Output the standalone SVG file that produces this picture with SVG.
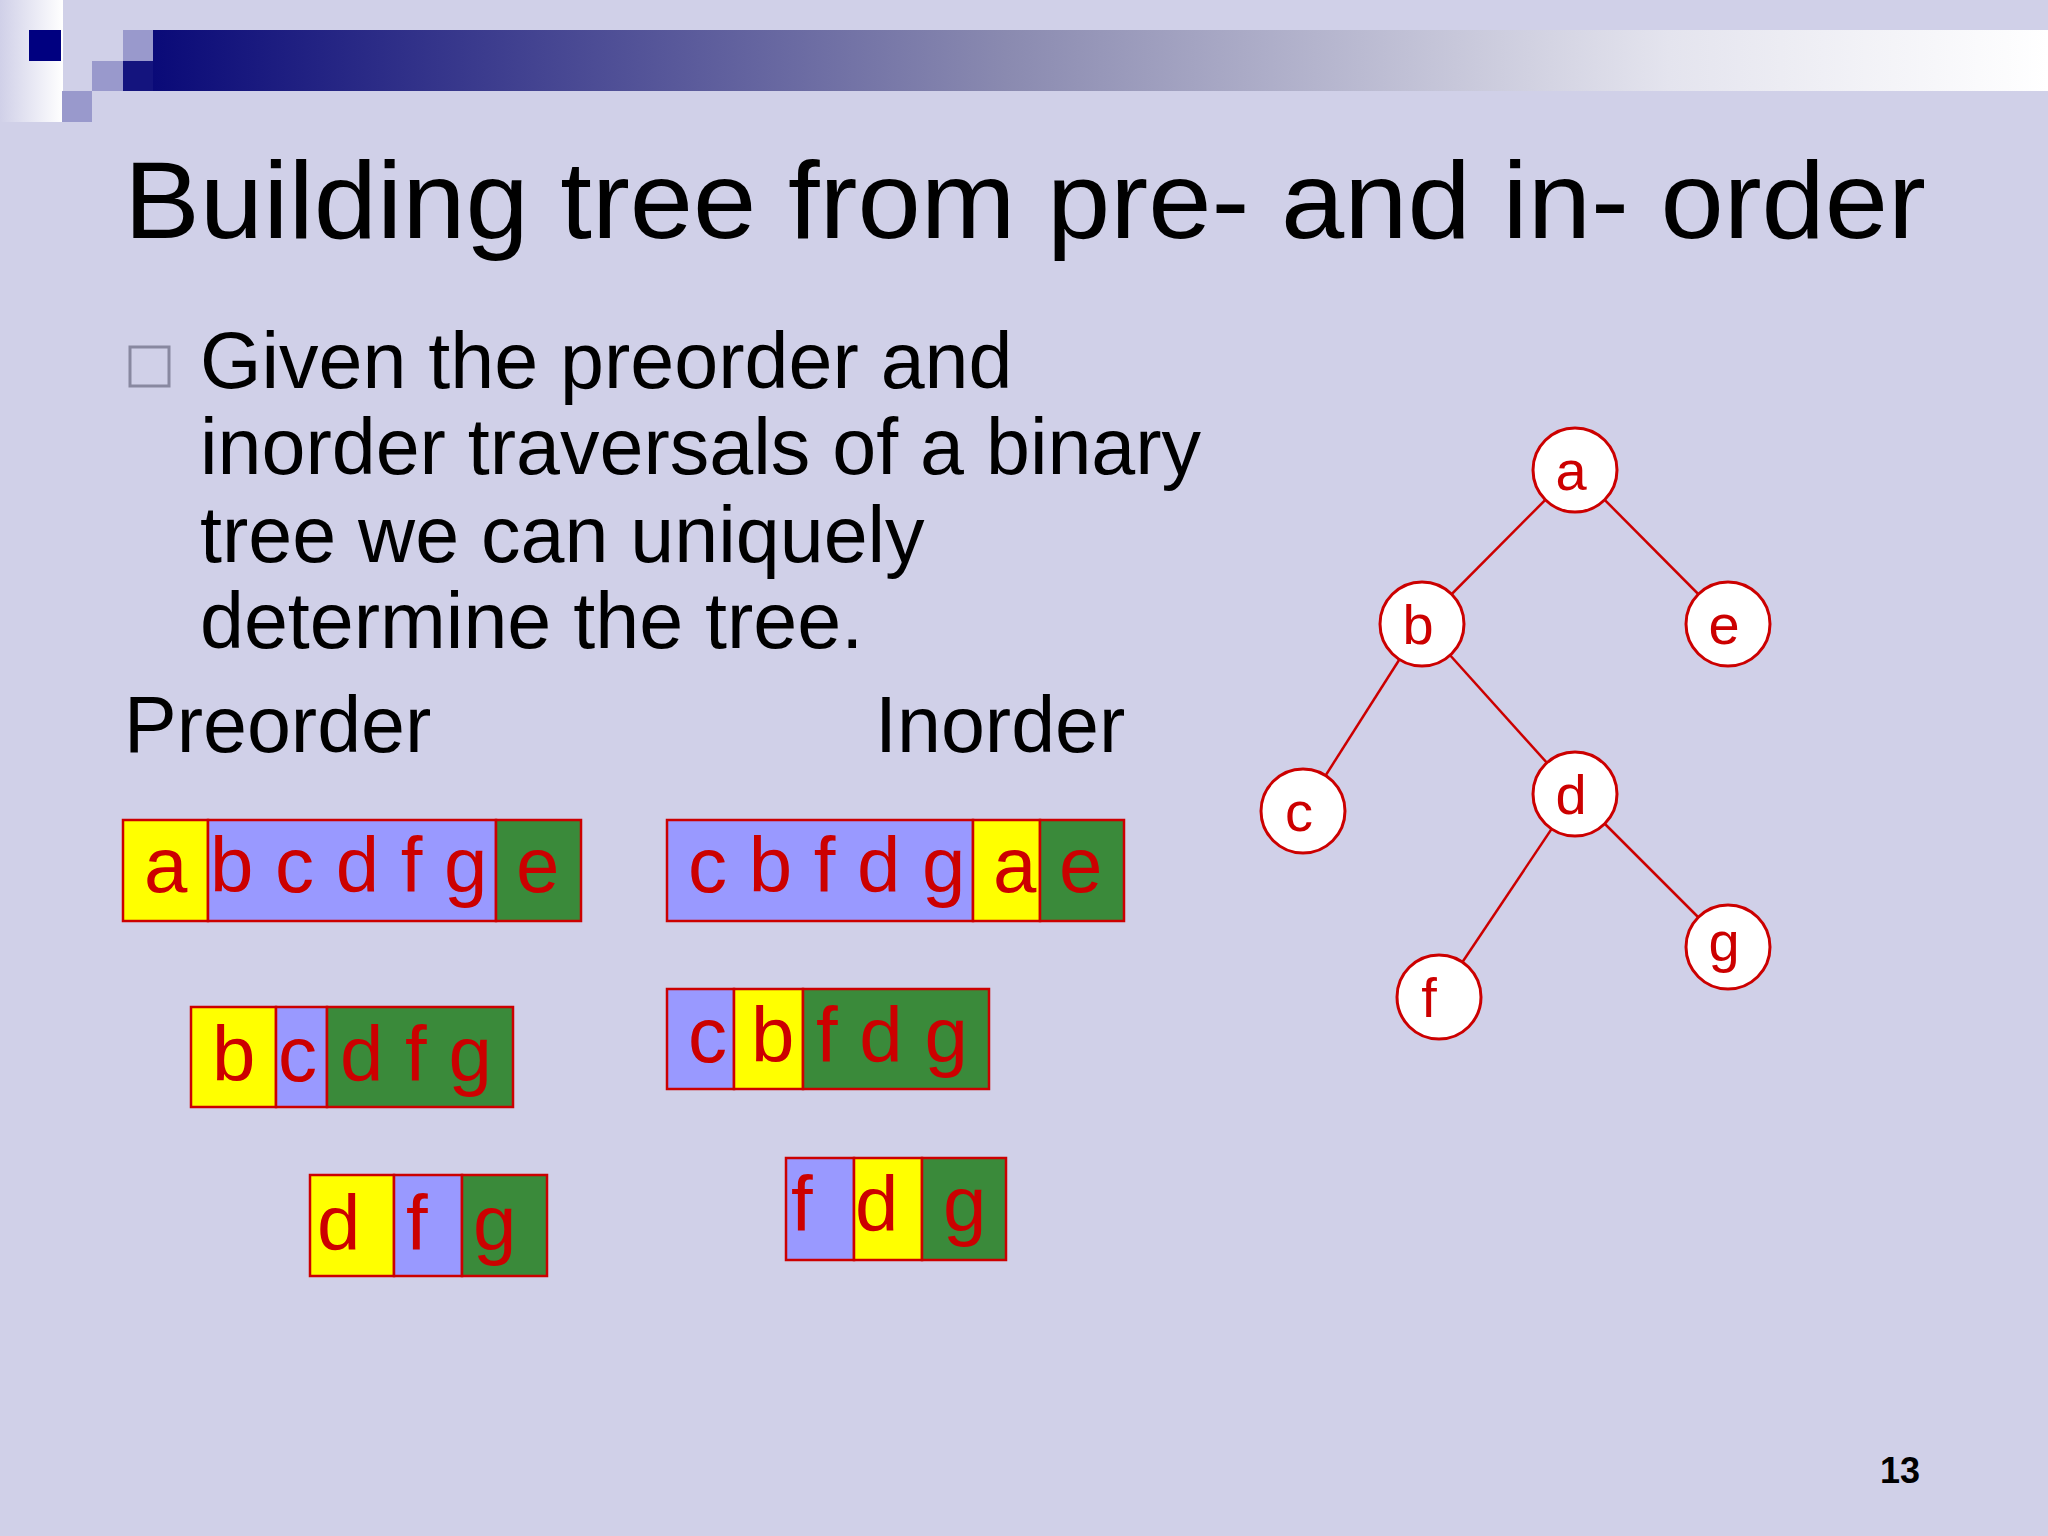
<svg xmlns="http://www.w3.org/2000/svg" width="2048" height="1536" viewBox="0 0 2048 1536">
<defs>
<linearGradient id="bar" x1="0" x2="1" y1="0" y2="0"><stop offset="0" stop-color="#0a0a78"/><stop offset="0.45" stop-color="#8a8ab0"/><stop offset="0.8" stop-color="#e4e4ee"/><stop offset="1" stop-color="#ffffff"/></linearGradient>
<linearGradient id="strip" x1="0" x2="1"><stop offset="0" stop-color="#d0d0e8"/><stop offset="1" stop-color="#ffffff"/></linearGradient>
<style>
text{font-family:"Liberation Sans",Arial,sans-serif}
.t{font-size:79px;fill:#000}
.r{font-size:78px;fill:#cc0000}
.y{fill:#ffff00;stroke:#cc0000;stroke-width:2.5}
.b{fill:#9999ff;stroke:#cc0000;stroke-width:2.5}
.g{fill:#3a8a3a;stroke:#cc0000;stroke-width:2.5}
.n circle{fill:#fff;stroke:#cc0000;stroke-width:3}
.n text{font-size:56px;fill:#cc0000;text-anchor:middle}
.e line{stroke:#cc0000;stroke-width:2.5}
</style>
</defs>
<rect width="2048" height="1536" fill="#d0d0e8"/>
<rect x="0" y="0" width="63" height="122" fill="url(#strip)"/>
<rect x="153" y="30" width="1895" height="61" fill="url(#bar)"/>
<rect x="123" y="61" width="30" height="30" fill="#14147e"/>
<rect x="29" y="30" width="32" height="31" fill="#000080"/>
<rect x="123" y="30" width="30" height="31" fill="#9999cc"/>
<rect x="92" y="61" width="31" height="30" fill="#9999cc"/>
<rect x="62" y="91" width="30" height="31" fill="#9999cc"/>
<text x="124" y="238" font-size="110" textLength="1802" lengthAdjust="spacingAndGlyphs" fill="#000">Building tree from pre- and in- order</text>
<rect x="130" y="347" width="39" height="39" fill="none" stroke="#8888a0" stroke-width="3"/>
<text class="t" x="200" y="388">Given the preorder and</text>
<text class="t" x="200" y="474">inorder traversals of a binary</text>
<text class="t" x="200" y="562">tree we can uniquely</text>
<text class="t" x="200" y="648">determine the tree.</text>
<text class="t" x="124" y="752">Preorder</text>
<text class="t" x="875" y="752">Inorder</text>
<g id="pre1"><rect class="y" x="123" y="820" width="85" height="101"/><rect class="b" x="208" y="820" width="288" height="101"/><rect class="g" x="496" y="820" width="85" height="101"/>
<text class="r" x="144" y="892">a</text><text class="r" x="210" y="892">b c d f g</text><text class="r" x="516" y="892">e</text></g>
<g id="in1"><rect class="b" x="667" y="820" width="306" height="101"/><rect class="y" x="973" y="820" width="67" height="101"/><rect class="g" x="1040" y="820" width="84" height="101"/>
<text class="r" x="688" y="892">c b f d g</text><text class="r" x="993" y="892">a</text><text class="r" x="1059" y="892">e</text></g>
<g id="pre2"><rect class="y" x="191" y="1007" width="85" height="100"/><rect class="b" x="276" y="1007" width="51" height="100"/><rect class="g" x="327" y="1007" width="186" height="100"/>
<text class="r" x="212" y="1081">b</text><text class="r" x="278" y="1081">c</text><text class="r" x="340" y="1081">d f g</text></g>
<g id="in2"><rect class="b" x="667" y="989" width="67" height="100"/><rect class="y" x="734" y="989" width="69" height="100"/><rect class="g" x="803" y="989" width="186" height="100"/>
<text class="r" x="688" y="1062">c</text><text class="r" x="751" y="1062">b</text><text class="r" x="816" y="1062">f d g</text></g>
<g id="pre3"><rect class="y" x="310" y="1175" width="84" height="101"/><rect class="b" x="394" y="1175" width="68" height="101"/><rect class="g" x="462" y="1175" width="85" height="101"/>
<text class="r" x="317" y="1250">d</text><text class="r" x="406" y="1250">f</text><text class="r" x="473" y="1250">g</text></g>
<g id="in3"><rect class="b" x="786" y="1158" width="68" height="102"/><rect class="y" x="854" y="1158" width="68" height="102"/><rect class="g" x="922" y="1158" width="84" height="102"/>
<text class="r" x="791" y="1231">f</text><text class="r" x="855" y="1231">d</text><text class="r" x="943" y="1231">g</text></g>
<g id="edges" class="e">
<line x1="1575" y1="470" x2="1422" y2="624"/><line x1="1575" y1="470" x2="1728" y2="624"/>
<line x1="1422" y1="624" x2="1303" y2="811"/><line x1="1422" y1="624" x2="1575" y2="794"/>
<line x1="1575" y1="794" x2="1439" y2="997"/><line x1="1575" y1="794" x2="1728" y2="947"/>
</g>
<g id="na" class="n"><circle cx="1575" cy="470" r="42"/><text x="1571" y="490">a</text></g>
<g id="nb" class="n"><circle cx="1422" cy="624" r="42"/><text x="1418" y="644">b</text></g>
<g id="ne" class="n"><circle cx="1728" cy="624" r="42"/><text x="1724" y="644">e</text></g>
<g id="nc" class="n"><circle cx="1303" cy="811" r="42"/><text x="1299" y="831">c</text></g>
<g id="nd" class="n"><circle cx="1575" cy="794" r="42"/><text x="1571" y="814">d</text></g>
<g id="nf" class="n"><circle cx="1439" cy="997" r="42"/><text x="1429" y="1017">f</text></g>
<g id="ng" class="n"><circle cx="1728" cy="947" r="42"/><text x="1724" y="961">g</text></g>
<text x="1880" y="1483" font-size="36" font-weight="bold" fill="#000">13</text>
</svg>
